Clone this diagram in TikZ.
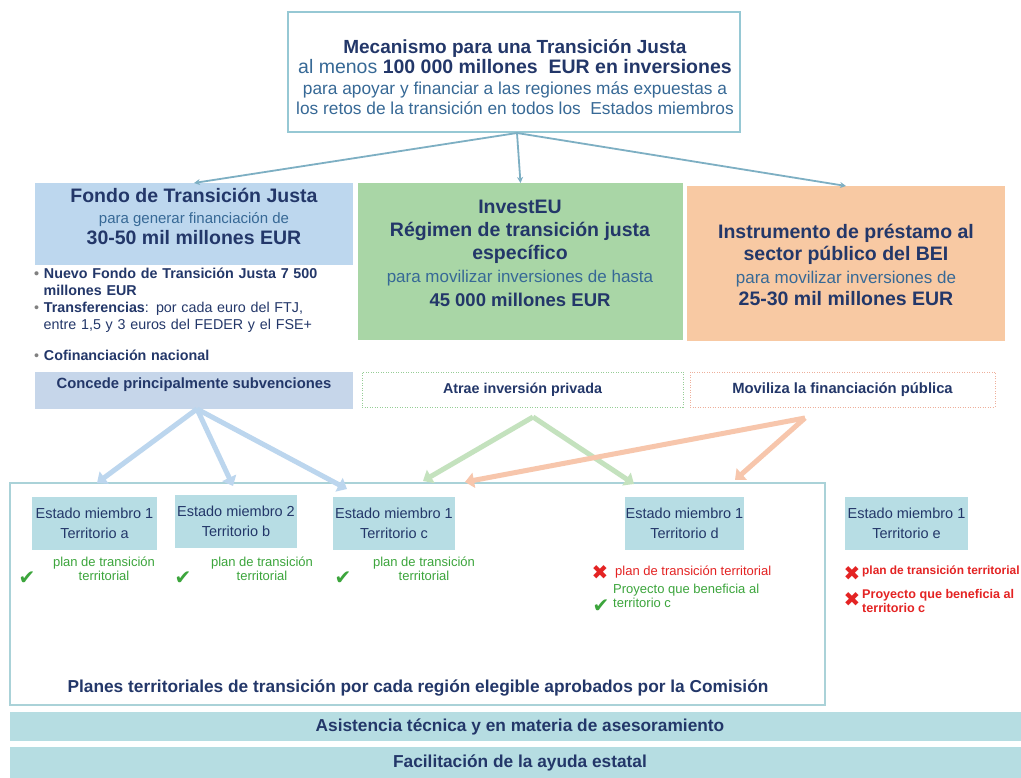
\documentclass[tikz,border=0pt]{standalone}
\usepackage{fontspec}
\setmainfont{Liberation Sans}
\newfontfamily\symf{DejaVu Sans}
\usetikzlibrary{arrows.meta}
\definecolor{navy}{RGB}{35,55,105}
\definecolor{midblue}{RGB}{55,105,150}
\definecolor{topbd}{RGB}{150,200,212}
\definecolor{arrteal}{RGB}{125,175,195}
\definecolor{fondofill}{RGB}{189,215,238}
\definecolor{concfill}{RGB}{198,214,234}
\definecolor{greenfill}{RGB}{169,214,166}
\definecolor{orangefill}{RGB}{248,201,163}
\definecolor{terrfill}{RGB}{183,221,228}
\definecolor{bandfill}{RGB}{182,221,226}
\definecolor{framebd}{RGB}{170,210,216}
\definecolor{ablue}{RGB}{188,214,238}
\definecolor{agreen}{RGB}{196,226,190}
\definecolor{aorange}{RGB}{247,198,172}
\definecolor{greentext}{RGB}{60,165,60}
\definecolor{redc}{RGB}{228,35,35}
\definecolor{gdot}{RGB}{150,205,150}
\definecolor{odot}{RGB}{238,175,155}
\newcommand\fsz[2]{\fontsize{#1}{#2}\selectfont}
\begin{document}
\begin{tikzpicture}[x=1pt,y=-1pt,
  box/.style={inner sep=0pt, outer sep=0pt},
  txt/.style={inner sep=0pt, align=center, text=navy},
  terr/.style={box, fill=terrfill, align=center, text=navy, font=\fsz{14.5}{20}},
  topline/.style={draw=arrteal, line width=1.8pt, -{Stealth[length=6pt,width=6pt]}},
  fat/.style={line width=5pt, -{Triangle[length=9pt,width=15pt]}},
  chk/.style={inner sep=0pt, text=greentext, font=\symf\fsz{20}{20}},
  crs/.style={inner sep=0pt, text=redc, font=\symf\fsz{20}{20}},
  gtxt/.style={inner sep=0pt, align=center, text=greentext, font=\fsz{13}{13.5}},
  rtxt/.style={inner sep=0pt, align=left, text=redc, font=\fsz{13}{13.5}},
  dotbox/.style={box, line width=1pt, dash pattern=on 1pt off 1.5pt, text=navy}
]
\useasboundingbox (0,0) rectangle (1021,778);
\fill[white] (0,0) rectangle (1021,778);

% top box
\node[box, draw=topbd, line width=1.5pt, minimum width=452pt, minimum height=120pt] (top) at (514,72) {};
\node[txt, font=\fsz{19}{20.5}] (topT) at (515,77) {\textbf{Mecanismo para una Transición Justa}\\
  \fsz{19.5}{20.5}{\color{midblue}al menos} \textbf{100 000 millones\ \ EUR en inversiones}\\
  \fsz{17.3}{20.5}\color{midblue}para apoyar y financiar a las regiones más expuestas a\\
  \fsz{17.3}{20.5}\color{midblue}los retos de la transición en todos los\ \ Estados miembros};

% three instruments
\node[box, fill=fondofill, minimum width=318pt, minimum height=82pt] (fondo) at (194,224) {};
\node[txt, font=\fsz{19.5}{21}] (fondoT) at (194,216) {\textbf{Fondo de Transición Justa}\\
  \fsz{15}{21}\color{midblue}para generar financiación de\\
  \fsz{19.5}{21}\textbf{30-50 mil millones EUR}};

\node[box, fill=greenfill, minimum width=325pt, minimum height=157pt] (inv) at (520.5,261.5) {};
\node[txt, font=\fsz{19.5}{23.2}\bfseries] (invT) at (520,253) {InvestEU\\
  Régimen de transición justa\\ específico\\
  \fsz{17}{23.2}\mdseries\color{midblue}para movilizar inversiones de hasta\\
  \fsz{18.5}{23.2}45 000 millones EUR};

\node[box, fill=orangefill, minimum width=318pt, minimum height=155pt] (bei) at (846,263.5) {};
\node[txt, font=\fsz{19.5}{22.3}\bfseries] (beiT) at (846,265) {Instrumento de préstamo al\\
  sector público del BEI\\
  \fsz{17}{22.3}\mdseries\color{midblue}para movilizar inversiones de\\
  25-30 mil millones EUR};

% bullets
\node[inner sep=0pt, anchor=north west, align=left, text=navy, text width=322pt, font=\fsz{14.3}{17}] (bul) at (34,268)
 {\textbf{{\color{gray}•} Nuevo Fondo de Transición Justa 7 500}\\
  \textbf{\ \ millones EUR}\\
  {\color{gray}•} \textbf{Transferencias}: por cada euro del FTJ,\\
  \ \ entre 1,5 y 3 euros del FEDER y el FSE+\\[14pt]
  {\color{gray}•} \textbf{Cofinanciación nacional}};

\node[box, fill=concfill, minimum width=318pt, minimum height=37pt] (conc) at (194,390.5) {};
\node[txt, font=\bfseries\fsz{14.8}{16}] (concT) at (194,385) {Concede principalmente subvenciones};

\node[dotbox, draw=gdot, minimum width=321pt, minimum height=35pt, font=\bfseries\fsz{14.3}{16}] (atrae) at (522.5,389.5) {Atrae inversión privada};
\node[dotbox, draw=odot, minimum width=305pt, minimum height=35pt, font=\bfseries\fsz{14.8}{16}] (movi) at (842.5,389.5) {Moviliza la financiación pública};

% connectors from top
\coordinate (topS) at (517,133);
\draw[topline] (topS) -- (fondo.north);
\draw[topline] (topS) -- (inv.north);
\draw[topline] (topS) -- (bei.north);

% frame of territorial plans
\node[box, draw=framebd, line width=1.5pt, fill=white, minimum width=815pt, minimum height=222pt] (plans) at (417.5,594) {};

% arrow end points on the frame
\coordinate (ea) at (97,483);
\coordinate (eb) at (233,486);
\coordinate (ec) at (347,489);
\coordinate (eg1) at (423,481);
\coordinate (eg2) at (634,484);
\coordinate (eo1) at (465,482);
\coordinate (eo2) at (735,480);
\coordinate (cS) at (197,409);
\coordinate (aS) at (533,417);
\coordinate (mS) at (805,418);

\draw[fat, draw=ablue, fill=ablue] (cS) -- (ea);
\draw[fat, draw=ablue, fill=ablue] (cS) -- (eb);
\draw[fat, draw=ablue, fill=ablue] (cS) -- (ec);
\draw[fat, draw=agreen, fill=agreen] (aS) -- (eg1);
\draw[fat, draw=agreen, fill=agreen] (aS) -- (eg2);
\draw[fat, draw=aorange, fill=aorange] (mS) -- (eo1);
\draw[fat, draw=aorange, fill=aorange] (mS) -- (eo2);

% territories
\node[terr, minimum width=125pt, minimum height=53pt] (ta) at (94.5,523.5) {Estado miembro 1\\Territorio a};
\node[terr, minimum width=122pt, minimum height=53pt] (tb) at (236,521.5) {Estado miembro 2\\Territorio b};
\node[terr, minimum width=122pt, minimum height=53pt] (tc) at (394,523.5) {Estado miembro 1\\Territorio c};
\node[terr, minimum width=119pt, minimum height=53pt] (td) at (684.5,523.5) {Estado miembro 1\\Territorio d};
\node[terr, minimum width=123pt, minimum height=53pt] (te) at (906.5,523.5) {Estado miembro 1\\Territorio e};

\node[chk] (ka) at (27,578) {✔};
\node[gtxt] (pa) at (104,569) {plan de transición\\territorial};
\node[chk] (kb) at (183,578) {✔};
\node[gtxt] (pb) at (262,569) {plan de transición\\territorial};
\node[chk] (kc) at (343,578) {✔};
\node[gtxt] (pc) at (424,569) {plan de transición\\territorial};

\node[crs] (xd) at (600,573) {✖};
\node[rtxt, anchor=west] (pd) at (615,572) {plan de transición territorial};
\node[chk] (kd) at (601,606) {✔};
\node[inner sep=0pt, align=left, text=greentext, font=\fsz{13}{13.5}, anchor=west] (prd) at (613,596) {Proyecto que beneficia al\\territorio c};

\node[crs] (xe) at (852,574) {✖};
\node[rtxt, anchor=west, font=\bfseries\fsz{11.9}{13.5}] (pe) at (862,571) {plan de transición territorial};
\node[crs] (xe2) at (852,600) {✖};
\node[rtxt, anchor=west, font=\bfseries\fsz{12.6}{13.5}] (pre) at (862,601) {Proyecto que beneficia al\\territorio c};

\node[txt, font=\bfseries\fsz{17.3}{18}] (plansT) at (418,688) {Planes territoriales de transición por cada región elegible aprobados por la Comisión};

% bottom bands
\node[box, fill=bandfill, minimum width=1025pt, minimum height=29pt, anchor=north west] (b1) at (10,712) {};
\node[txt, font=\bfseries\fsz{17.3}{18}] (b1T) at (520,727) {Asistencia técnica y en materia de asesoramiento};
\node[box, fill=bandfill, minimum width=1025pt, minimum height=40pt, anchor=north west] (b2) at (10,747) {};
\node[txt, font=\bfseries\fsz{17.3}{18}] (b2T) at (520,763) {Facilitación de la ayuda estatal};
\end{tikzpicture}
\end{document}
